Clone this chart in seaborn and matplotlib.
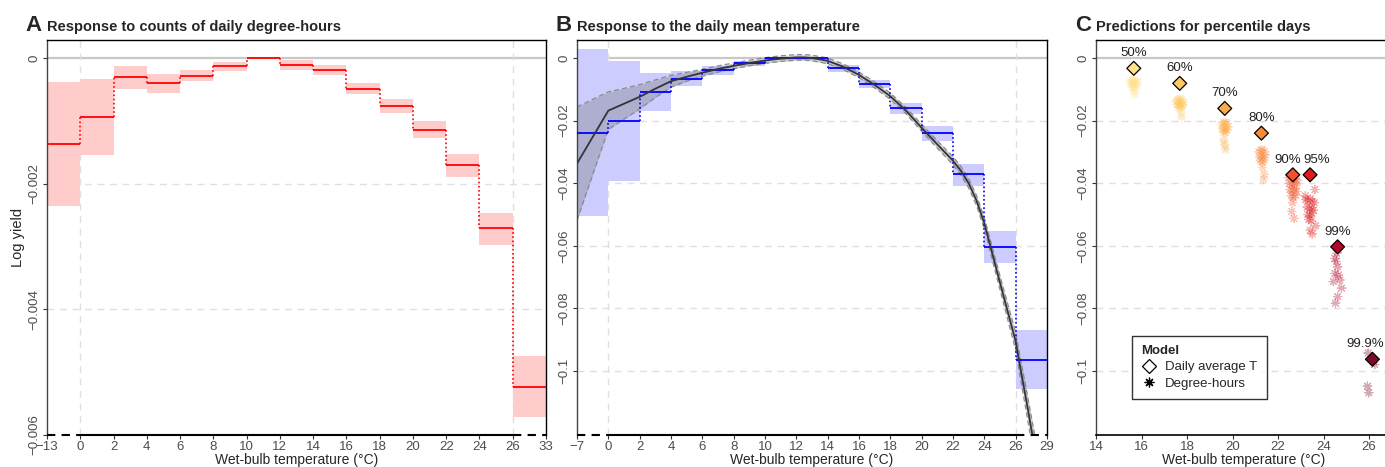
import numpy as np
import pandas as pd
import matplotlib
matplotlib.use('Agg')
import matplotlib.pyplot as plt
from matplotlib.lines import Line2D
import seaborn as sns

# Panel A: response to counts of daily degree-hours (bin edges, mean, CI)
edges_a = [-13, 0, 2, 4, 6, 8, 10, 12, 14, 16, 18, 20, 22, 24, 26, 33]
mean_a = [-0.00137, -0.000935, -0.000308, -0.000393, -0.000287, -0.000133, 0.0,
          -0.000106, -0.000191, -0.000489, -0.000765, -0.00114, -0.0017, -0.00271, -0.00523]
lo_a = [-0.00236, -0.00154, -0.00049, -0.00055, -0.00037, -0.000207, 0.0,
        -0.000186, -0.000276, -0.000568, -0.000877, -0.00127, -0.00189, -0.00297, -0.00572]
hi_a = [-0.00038, -0.000335, -0.000128, -0.00025, -0.000197, -0.00006, 0.0,
        -0.000032, -0.00011, -0.000404, -0.000653, -0.001, -0.00153, -0.00247, -0.00474]

# Panel B: response to daily mean temperature (bins + smooth fit)
edges_b = [-7, 0, 2, 4, 6, 8, 10, 12, 14, 16, 18, 20, 22, 24, 26, 29]
mean_b = [-0.0239, -0.0200, -0.0109, -0.0066, -0.0038, -0.0016, 0.0, 0.0,
          -0.0032, -0.0082, -0.0160, -0.0240, -0.0372, -0.0603, -0.0963]
lo_b = [-0.0504, -0.0394, -0.0169, -0.0091, -0.0055, -0.0027, -0.0006, -0.0006,
        -0.0044, -0.0096, -0.0179, -0.0265, -0.0409, -0.0655, -0.1057]
hi_b = [0.0028, -0.0010, -0.0048, -0.0043, -0.0026, -0.0009, 0.0, 0.0,
        -0.0021, -0.0069, -0.0143, -0.0216, -0.0338, -0.0553, -0.0869]

curve_temp = [-7, 0, 1, 2, 3, 4, 5, 6, 7, 8, 9, 10, 11, 12, 12.5, 13, 14, 15, 16, 17,
              18, 19, 20, 21, 22, 22.5, 23, 23.5, 24, 25, 26, 26.5, 27, 27.6, 28]
curve_fit = [-0.0337, -0.0168, -0.0146, -0.0124, -0.0098, -0.0074, -0.0060, -0.0047,
             -0.0035, -0.0025, -0.0016, -0.0008, -0.0002, 0.0002, 0.0002, 0.0, -0.0009,
             -0.0028, -0.0054, -0.0086, -0.0122, -0.0168, -0.0223, -0.0276, -0.0328,
             -0.0360, -0.0400, -0.0455, -0.0528, -0.0718, -0.0905, -0.1000, -0.1090,
             -0.1204, -0.1280]
curve_se = [0.0181, 0.0060, 0.0049, 0.0039, 0.0028, 0.0019, 0.0014, 0.0011, 0.0010,
            0.0009, 0.0009, 0.0009, 0.0009, 0.0009, 0.0009, 0.0009, 0.0009, 0.0009,
            0.0009, 0.0010, 0.0010, 0.0010, 0.0011, 0.0012, 0.0013, 0.0014, 0.0015,
            0.0016, 0.0018, 0.0022, 0.0028, 0.0032, 0.0036, 0.0040, 0.0043]

# Panel C: predictions for percentile days
pct_labels = ['50%', '60%', '70%', '80%', '90%', '95%', '99%', '99.9%']
pct_temp = [15.66, 17.68, 19.66, 21.27, 22.65, 23.41, 24.62, 26.15]
pct_logy = [-0.0033, -0.0081, -0.0161, -0.0240, -0.0373, -0.0373, -0.0603, -0.0962]
pct_colors = ['#FFE28A', '#FDC95E', '#FDAA48', '#FB8A3C', '#F4502A', '#E01B1C', '#B8062A', '#7E0A27']

# degree-hours model predictions (one list per percentile)
dh_temp = [
    [15.50, 15.58, 15.66, 15.74, 15.82, 15.54, 15.62, 15.70, 15.78, 15.58, 15.66, 15.74, 15.68, 15.70],
    [17.52, 17.60, 17.68, 17.76, 17.84, 17.56, 17.64, 17.72, 17.80, 17.62, 17.70, 17.78, 17.74, 17.76],
    [19.52, 19.60, 19.68, 19.76, 19.80, 19.56, 19.64, 19.72, 19.60, 19.68, 19.74, 19.62, 19.66, 19.70],
    [21.16, 21.24, 21.32, 21.40, 21.44, 21.20, 21.28, 21.36, 21.22, 21.30, 21.38, 21.32, 21.40, 21.36],
    [22.46, 22.56, 22.66, 22.76, 22.84, 22.50, 22.60, 22.70, 22.80, 22.52, 22.62, 22.72, 22.82,
     22.58, 22.68, 22.78, 22.64, 22.60, 22.70],
    [23.22, 23.32, 23.42, 23.52, 23.60, 23.28, 23.38, 23.48, 23.56, 23.30, 23.40, 23.50, 23.36,
     23.46, 23.62, 23.20, 23.66, 23.42, 23.50],
    [24.58, 24.50, 24.62, 24.50, 24.65, 24.72, 24.43, 24.79, 24.62, 24.53, 24.66, 24.56],
    [25.96, 26.25, 26.20, 25.93, 25.99],
]
dh_logy = [
    [-0.0074, -0.0070, -0.0068, -0.0070, -0.0076, -0.0084, -0.0082, -0.0080, -0.0086, -0.0092,
     -0.0094, -0.0090, -0.0104, -0.0116],
    [-0.0138, -0.0132, -0.0130, -0.0133, -0.0140, -0.0148, -0.0145, -0.0147, -0.0150, -0.0156,
     -0.0157, -0.0154, -0.0172, -0.0188],
    [-0.0212, -0.0206, -0.0205, -0.0210, -0.0220, -0.0226, -0.0222, -0.0228, -0.0236, -0.0238,
     -0.0232, -0.0262, -0.0278, -0.0292],
    [-0.0300, -0.0294, -0.0293, -0.0298, -0.0310, -0.0316, -0.0312, -0.0318, -0.0328, -0.0332,
     -0.0326, -0.0350, -0.0372, -0.0388],
    [-0.0382, -0.0380, -0.0384, -0.0386, -0.0390, -0.0400, -0.0404, -0.0398, -0.0406, -0.0420,
     -0.0424, -0.0418, -0.0426, -0.0440, -0.0446, -0.0438, -0.0462, -0.0490, -0.0512],
    [-0.0452, -0.0456, -0.0450, -0.0458, -0.0462, -0.0476, -0.0482, -0.0478, -0.0486, -0.0500,
     -0.0504, -0.0496, -0.0516, -0.0520, -0.0420, -0.0440, -0.0536, -0.0550, -0.0562],
    [-0.0624, -0.0640, -0.0667, -0.0688, -0.0693, -0.0709, -0.0714, -0.0735, -0.0762, -0.0783,
     -0.0612, -0.0650],
    [-0.0942, -0.0979, -0.0968, -0.1048, -0.1069],
]

sns.set_theme(style='white')
plt.rcParams['font.family'] = ['Liberation Sans', 'DejaVu Sans']

W, H = 1385, 467
fig = plt.figure(figsize=(W / 100, H / 100), dpi=100)
top_px, bot_px = 40, 435
b = (H - bot_px) / H
h = (bot_px - top_px) / H
ax_a = fig.add_axes([47 / W, b, (546 - 47) / W, h])
ax_b = fig.add_axes([577 / W, b, (1047 - 577) / W, h])
ax_c = fig.add_axes([1096 / W, b, 295.75 / W, h])

tick_grey = '#4d4d4d'


def fmt(v):
    s = f'{v:g}'
    return s.replace('-', '\u2212')


def style_axis(ax, ylim, yticks):
    ax.set_ylim(ylim)
    ax.set_yticks(yticks)
    ax.set_yticklabels([fmt(v) for v in yticks], rotation=90, va='center')
    for v in yticks:
        if v == 0:
            ax.axhline(0, color='#c8c8c8', lw=1.6, zorder=0.5)
        elif v > ylim[0]:
            ax.axhline(v, color='#e0e0e0', lw=1.0, ls=(0, (5, 4)), zorder=0.5)
    ax.tick_params(axis='both', length=3, width=0.8, color='#333333', labelcolor=tick_grey,
                   labelsize=9.5, pad=1.5, left=True, bottom=True)
    for s in ['top', 'right']:
        ax.spines[s].set_color('black')
        ax.spines[s].set_linewidth(1.0)
    ax.spines['left'].set_color('#444444')
    ax.spines['left'].set_linewidth(1.0)


def draw_bins(ax, edges, mean, lo, hi, line_col, fill_col):
    pos = np.arange(len(edges))
    for i in range(len(mean)):
        if hi[i] != lo[i]:
            ax.fill_between([pos[i], pos[i + 1]], lo[i], hi[i], color=fill_col, lw=0, zorder=1)
    ax.hlines(mean, pos[:-1], pos[1:], colors=line_col, lw=1.3, zorder=3)
    ax.vlines(pos[1:-1], mean[:-1], mean[1:], colors=line_col, lw=1.2, linestyles=(0, (1, 1.5)), zorder=3)


def broken_axis(ax, edges, ylim):
    n = len(edges) - 1
    ax.set_xlim(0, n)
    ax.set_xticks(np.arange(len(edges)))
    ax.set_xticklabels([fmt(e) for e in edges])
    for p in [1, n - 1]:
        ax.axvline(p, color='#e0e0e0', lw=1.0, ls=(0, (5, 4)), zorder=0.5)
    ax.spines['bottom'].set_visible(False)
    y0 = ylim[0]
    ax.plot([0, 1], [y0, y0], color='black', lw=1.5, ls=(0, (4, 3)), clip_on=False, zorder=5)
    ax.plot([1, n - 1], [y0, y0], color='black', lw=1.5, clip_on=False, zorder=5)
    ax.plot([n - 1, n], [y0, y0], color='black', lw=1.5, ls=(0, (4, 3)), clip_on=False, zorder=5)


# ---- Panel A
ylim_a = (-0.006, 0.000287)
draw_bins(ax_a, edges_a, np.array(mean_a), lo_a, hi_a, 'red', '#ffcccc')
style_axis(ax_a, ylim_a, [0, -0.002, -0.004, -0.006])
broken_axis(ax_a, edges_a, ylim_a)
ax_a.set_ylabel('Log yield', fontsize=10.5, labelpad=3)

# ---- Panel B
ylim_b = (-0.1204, 0.00575)
draw_bins(ax_b, edges_b, np.array(mean_b), lo_b, hi_b, 'blue', '#ccccff')
curve_pos = np.interp(curve_temp, edges_b, np.arange(len(edges_b)))
fit = np.array(curve_fit)
se = np.array(curve_se)
ax_b.fill_between(curve_pos, fit - se, fit + se, color='#7f7f7f', alpha=0.38, lw=0, zorder=2)
ax_b.plot(curve_pos, fit + se, color='#8a8a8a', lw=0.9, ls=(0, (4, 2.5)), zorder=2.5)
ax_b.plot(curve_pos, fit - se, color='#8a8a8a', lw=0.9, ls=(0, (4, 2.5)), zorder=2.5)
sns.lineplot(x=curve_pos, y=fit, color='#33333d', lw=1.3, sort=False, ax=ax_b, zorder=4)
style_axis(ax_b, ylim_b, [0, -0.02, -0.04, -0.06, -0.08, -0.1])
broken_axis(ax_b, edges_b, ylim_b)

# ---- Panel C
palette = dict(zip(pct_labels, pct_colors))
rows = []
for lab, ts, ys in zip(pct_labels, dh_temp, dh_logy):
    for t, y in zip(ts, ys):
        rows.append({'pct': lab, 'temp': t, 'logy': y})
dh = pd.DataFrame(rows)
sns.scatterplot(data=dh, x='temp', y='logy', hue='pct', palette=palette, marker=(8, 2, 0),
                s=36, alpha=0.35, linewidth=0.8, legend=False, ax=ax_c, zorder=2)
dav = pd.DataFrame({'pct': pct_labels, 'temp': pct_temp, 'logy': pct_logy})
sns.scatterplot(data=dav, x='temp', y='logy', hue='pct', palette=palette, marker='D',
                s=50, edgecolor='black', linewidth=0.9, legend=False, ax=ax_c, zorder=4)
# small horizontal nudges so labels do not collide or run off the edge
label_nudge = {'90%': -4, '95%': 5, '99.9%': -5}
for lab, t, y in zip(pct_labels, pct_temp, pct_logy):
    ax_c.annotate(lab, (t, y), xytext=(label_nudge.get(lab, 0), 6.5), textcoords='offset points',
                  ha='center', va='bottom', fontsize=9.5, color='#222222')
ax_c.set_xlim(14, 27)
ax_c.set_xticks(np.arange(14, 27, 2))
ax_c.set_xticklabels([str(v) for v in range(14, 27, 2)])
style_axis(ax_c, ylim_b, [0, -0.02, -0.04, -0.06, -0.08, -0.1])
ax_c.spines['bottom'].set_color('black')
ax_c.spines['bottom'].set_linewidth(1.2)

handles = [
    Line2D([], [], ls='none', marker='D', markerfacecolor='white', markeredgecolor='black',
           markersize=7, markeredgewidth=0.9),
    Line2D([], [], ls='none', marker=(8, 2, 0), color='black', markeredgecolor='black',
           markersize=7, markeredgewidth=0.9),
]
leg = ax_c.legend(handles, ['Daily average T', 'Degree-hours'], title='Model',
                  loc='lower left', bbox_to_anchor=(0.1, 0.075), fontsize=9.5,
                  title_fontproperties={'weight': 'bold', 'size': 9.5}, alignment='left',
                  frameon=True, fancybox=False, edgecolor='black', handletextpad=0.6,
                  borderpad=0.7, labelspacing=0.3, handlelength=1.2)
leg.get_frame().set_linewidth(1.0)

for ax in [ax_a, ax_b, ax_c]:
    ax.set_xlabel('Wet-bulb temperature (\u00b0C)', fontsize=10, labelpad=0)
    if ax is not ax_a:
        ax.set_ylabel('')

# panel titles
titles = [('A', 'Response to counts of daily degree-hours', 47),
          ('B', 'Response to the daily mean temperature', 577),
          ('C', 'Predictions for percentile days', 1096)]
ty = 1 - 31 / H
for letter, text, x0 in titles:
    fig.text((x0 - 5) / W, ty, letter, ha='right', va='baseline', fontsize=16, fontweight='bold')
    fig.text(x0 / W, ty, text, ha='left', va='baseline', fontsize=10.5, fontweight='bold')

fig.savefig('out.png', dpi=100)
